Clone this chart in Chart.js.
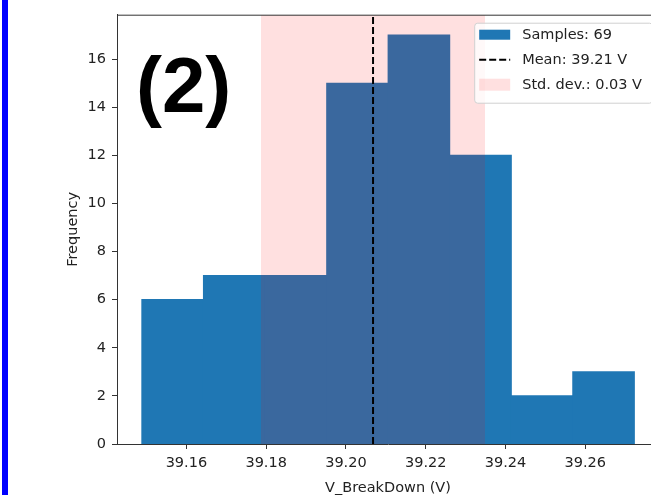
<!DOCTYPE html>
<html>
<head>
<meta charset="utf-8">
<script src="https://cdn.jsdelivr.net/npm/chart.js@4"></script>
<style>
  html, body { margin: 0; padding: 0; background: #fff; overflow: hidden; width: 651px; height: 495px; }
  #wrap { position: absolute; left: 0; top: 0; width: 680px; height: 495px; }
  #edge { position: absolute; left: 2px; top: 0; width: 6px; height: 495px; background: #0000ff; }
</style>
</head>
<body>
<div id="wrap"><canvas id="histChart" width="680" height="495"></canvas></div>
<div id="edge"></div>
<script>
// histogram data
const binEdges = [39.1488, 39.1643, 39.1797, 39.1952, 39.2106, 39.2260, 39.2415, 39.2569, 39.2723];
const counts = [6, 7, 7, 15, 17, 12, 2, 3];
const meanValue = 39.2068;
const stdValue = 0.0281;

const xTicks = [39.16, 39.18, 39.20, 39.22, 39.24, 39.26];
const yTicks = [0, 2, 4, 6, 8, 10, 12, 14, 16];
const xRange = [39.1426, 39.2785];
const yMax = 17.85;

const legendLabels = ['Samples: 69', 'Mean: 39.21 V', 'Std. dev.: 0.03 V'];
const panelTag = '(2)';
const xTitle = 'V_BreakDown (V)';
const yTitle = 'Frequency';

const BLUE = '#1f77b4';
const PINK = 'rgba(255,0,0,0.12)';
const TEXT = '#222222';
const FONT = { family: 'DejaVu Sans', size: 14.5 };

const barData = counts.map((c, i) => ({ x: (binEdges[i] + binEdges[i + 1]) / 2, y: c }));

// frame, legend box and panel tag
const decorPlugin = {
  id: 'decor',
  afterDraw(chart) {
    const { ctx, chartArea: a } = chart;
    ctx.save();
    // top spine
    ctx.strokeStyle = '#333';
    ctx.lineWidth = 1;
    ctx.beginPath();
    ctx.moveTo(a.left, a.top + 0.5);
    ctx.lineTo(a.right, a.top + 0.5);
    ctx.stroke();

    // legend
    ctx.font = `${FONT.size}px "${FONT.family}"`;
    const textW = Math.max(...legendLabels.map(t => ctx.measureText(t).width));
    const pad = 5, hw = 31, gap = 12;
    const boxW = pad + hw + gap + textW + 10;
    const right = a.right - 7;
    const left = right - boxW;
    const top = a.top + 8;
    const rowH = 25;
    const boxH = rowH * legendLabels.length + 5;
    ctx.fillStyle = 'rgba(255,255,255,0.8)';
    ctx.strokeStyle = '#d0d0d0';
    ctx.beginPath();
    ctx.roundRect(left + 0.5, top + 0.5, boxW, boxH, 3);
    ctx.fill();
    ctx.stroke();

    const hx = left + pad;
    legendLabels.forEach((label, i) => {
      const cy = top + 12 + i * rowH;
      if (i === 0) {
        ctx.fillStyle = BLUE;
        ctx.fillRect(hx, cy - 5, hw, 10);
      } else if (i === 1) {
        ctx.strokeStyle = '#000';
        ctx.lineWidth = 2;
        ctx.setLineDash([7, 3]);
        ctx.beginPath();
        ctx.moveTo(hx, cy);
        ctx.lineTo(hx + hw, cy);
        ctx.stroke();
        ctx.setLineDash([]);
      } else {
        ctx.fillStyle = PINK;
        ctx.fillRect(hx, cy - 6, hw, 12);
      }
      ctx.fillStyle = TEXT;
      ctx.textAlign = 'left';
      ctx.textBaseline = 'middle';
      ctx.fillText(label, hx + hw + gap, cy + 1);
    });

    // panel tag
    ctx.fillStyle = '#000';
    ctx.font = 'bold 78px "Liberation Sans"';
    ctx.textBaseline = 'alphabetic';
    ctx.fillText(panelTag, a.left + 19, 112);
    ctx.restore();
  }
};

const ctx = document.getElementById('histChart').getContext('2d');
new Chart(ctx, {
  type: 'bar',
  data: {
    datasets: [
      {
        type: 'line',
        label: legendLabels[1],
        data: [{ x: meanValue, y: 0 }, { x: meanValue, y: yMax }],
        borderColor: '#000',
        borderWidth: 2,
        borderDash: [7, 3],
        pointRadius: 0,
        fill: false,
        order: 1
      },
      {
        type: 'line',
        label: legendLabels[2],
        data: [{ x: meanValue - stdValue, y: yMax }, { x: meanValue + stdValue, y: yMax }],
        borderWidth: 0,
        pointRadius: 0,
        backgroundColor: PINK,
        fill: 'origin',
        order: 2
      },
      {
        type: 'bar',
        label: legendLabels[0],
        data: barData,
        backgroundColor: BLUE,
        borderWidth: 0,
        inflateAmount: 0.6,
        barPercentage: 1,
        categoryPercentage: 1,
        order: 3
      }
    ]
  },
  options: {
    responsive: false,
    animation: false,
    layout: { padding: { left: 0, right: 21, top: 11, bottom: 0 } },
    plugins: {
      legend: { display: false },
      tooltip: { enabled: false }
    },
    scales: {
      x: {
        type: 'linear',
        offset: false,
        min: xRange[0],
        max: xRange[1],
        afterBuildTicks: s => { s.ticks = xTicks.map(v => ({ value: v })); },
        afterFit: s => { s.height = 51; },
        grid: { offset: false, drawOnChartArea: false, tickLength: 5, tickColor: '#333' },
        border: { color: '#333', width: 1 },
        ticks: { font: FONT, color: TEXT, padding: 6, maxRotation: 0, callback: v => v.toFixed(2) },
        title: { display: true, text: xTitle, font: { ...FONT, lineHeight: 1.0 }, color: TEXT, padding: { top: 0, bottom: 0 } }
      },
      y: {
        min: 0,
        max: yMax,
        afterBuildTicks: s => { s.ticks = yTicks.map(v => ({ value: v })); },
        afterFit: s => { s.width = 117; },
        grid: { drawOnChartArea: false, tickLength: 5, tickColor: '#333' },
        border: { color: '#333', width: 1 },
        ticks: { font: FONT, color: TEXT, padding: 6 },
        title: { display: true, text: yTitle, font: FONT, color: TEXT, padding: { top: 65, bottom: 0 } }
      }
    }
  },
  plugins: [decorPlugin]
});
</script>
</body>
</html>
